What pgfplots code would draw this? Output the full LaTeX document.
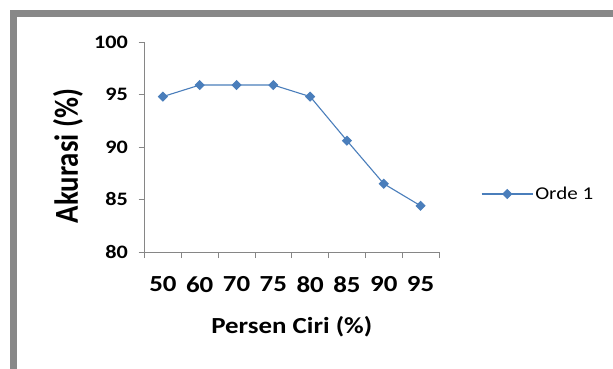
\documentclass[border=0pt]{standalone}
\usepackage{pgfplots}
\pgfplotsset{compat=1.18}
\usepackage{fontspec}
\setmainfont{Carlito}[FakeStretch=1.17]
\newfontfamily\ylfont{Carlito}[FakeStretch=0.86]
\newcommand\fs[1]{\fontsize{#1}{#1}\selectfont}
\definecolor{lineblue}{HTML}{4A7EBB}
\definecolor{axgray}{HTML}{868686}
\definecolor{framegray}{HTML}{888888}
\begin{document}
\begin{tikzpicture}[x=1pt,y=1pt]
\path[use as bounding box, fill=white] (0,0) rectangle (613,369);
\draw[framegray, line width=7.5pt] (13.3,-5) -- (13.3,355.7) -- (620,355.7);
\begin{axis}[
  at={(144.5pt,117pt)}, anchor=south west,
  scale only axis, width=294.5pt, height=210pt,
  xmin=0.5, xmax=8.5, ymin=80, ymax=100,
  axis lines*=left,
  axis line style={axgray, line width=0.8pt, -},
  tick align=outside,
  major tick length=6pt,
  tick style={axgray, line width=0.8pt},
  /pgf/number format/assume math mode=true,
  xtick={0.5,1.5,...,8.5}, xticklabels={{},{},{},{},{},{},{},{},{}},
  extra x ticks={1,2,3,4,5,6,7,8},
  extra x tick labels={50,60,70,75,80,85,90,95},
  extra x tick style={major tick length=0pt, tick label style={font=\fs{23}\bfseries, text=black, yshift=-21pt}},
  ytick={80,85,90,95,100},
  yticklabel style={font=\fs{19}\bfseries, text=black, xshift=-7pt},
  xlabel={Persen Ciri (\%)},
  xlabel style={at={(axis description cs:0.5,-0.357)}, anchor=center, font=\fs{23}\bfseries},
  ylabel={Akurasi (\%)},
  ylabel style={at={(axis description cs:-0.26,0.457)}, anchor=center, font=\ylfont\fs{33.5}\bfseries},
  legend style={at={(axis description cs:1.1426,0.276)}, anchor=west, draw=none, fill=none, inner sep=0pt, font=\fs{18}},
  legend cell align=left,
  legend image code/.code={\draw[mark repeat=2,mark phase=2,#1] plot coordinates {(0pt,0pt) (25.5pt,0pt) (51pt,0pt)};},
]
\addplot[lineblue, line width=1.1pt, mark=diamond*, mark size=4.3pt, mark options={fill=lineblue, draw=lineblue, xscale=1.333}]
  coordinates {(1,94.8) (2,95.9) (3,95.9) (4,95.9) (5,94.8) (6,90.6) (7,86.5) (8,84.4)};
\addlegendentry{Orde 1}
\end{axis}
\end{tikzpicture}
\end{document}
